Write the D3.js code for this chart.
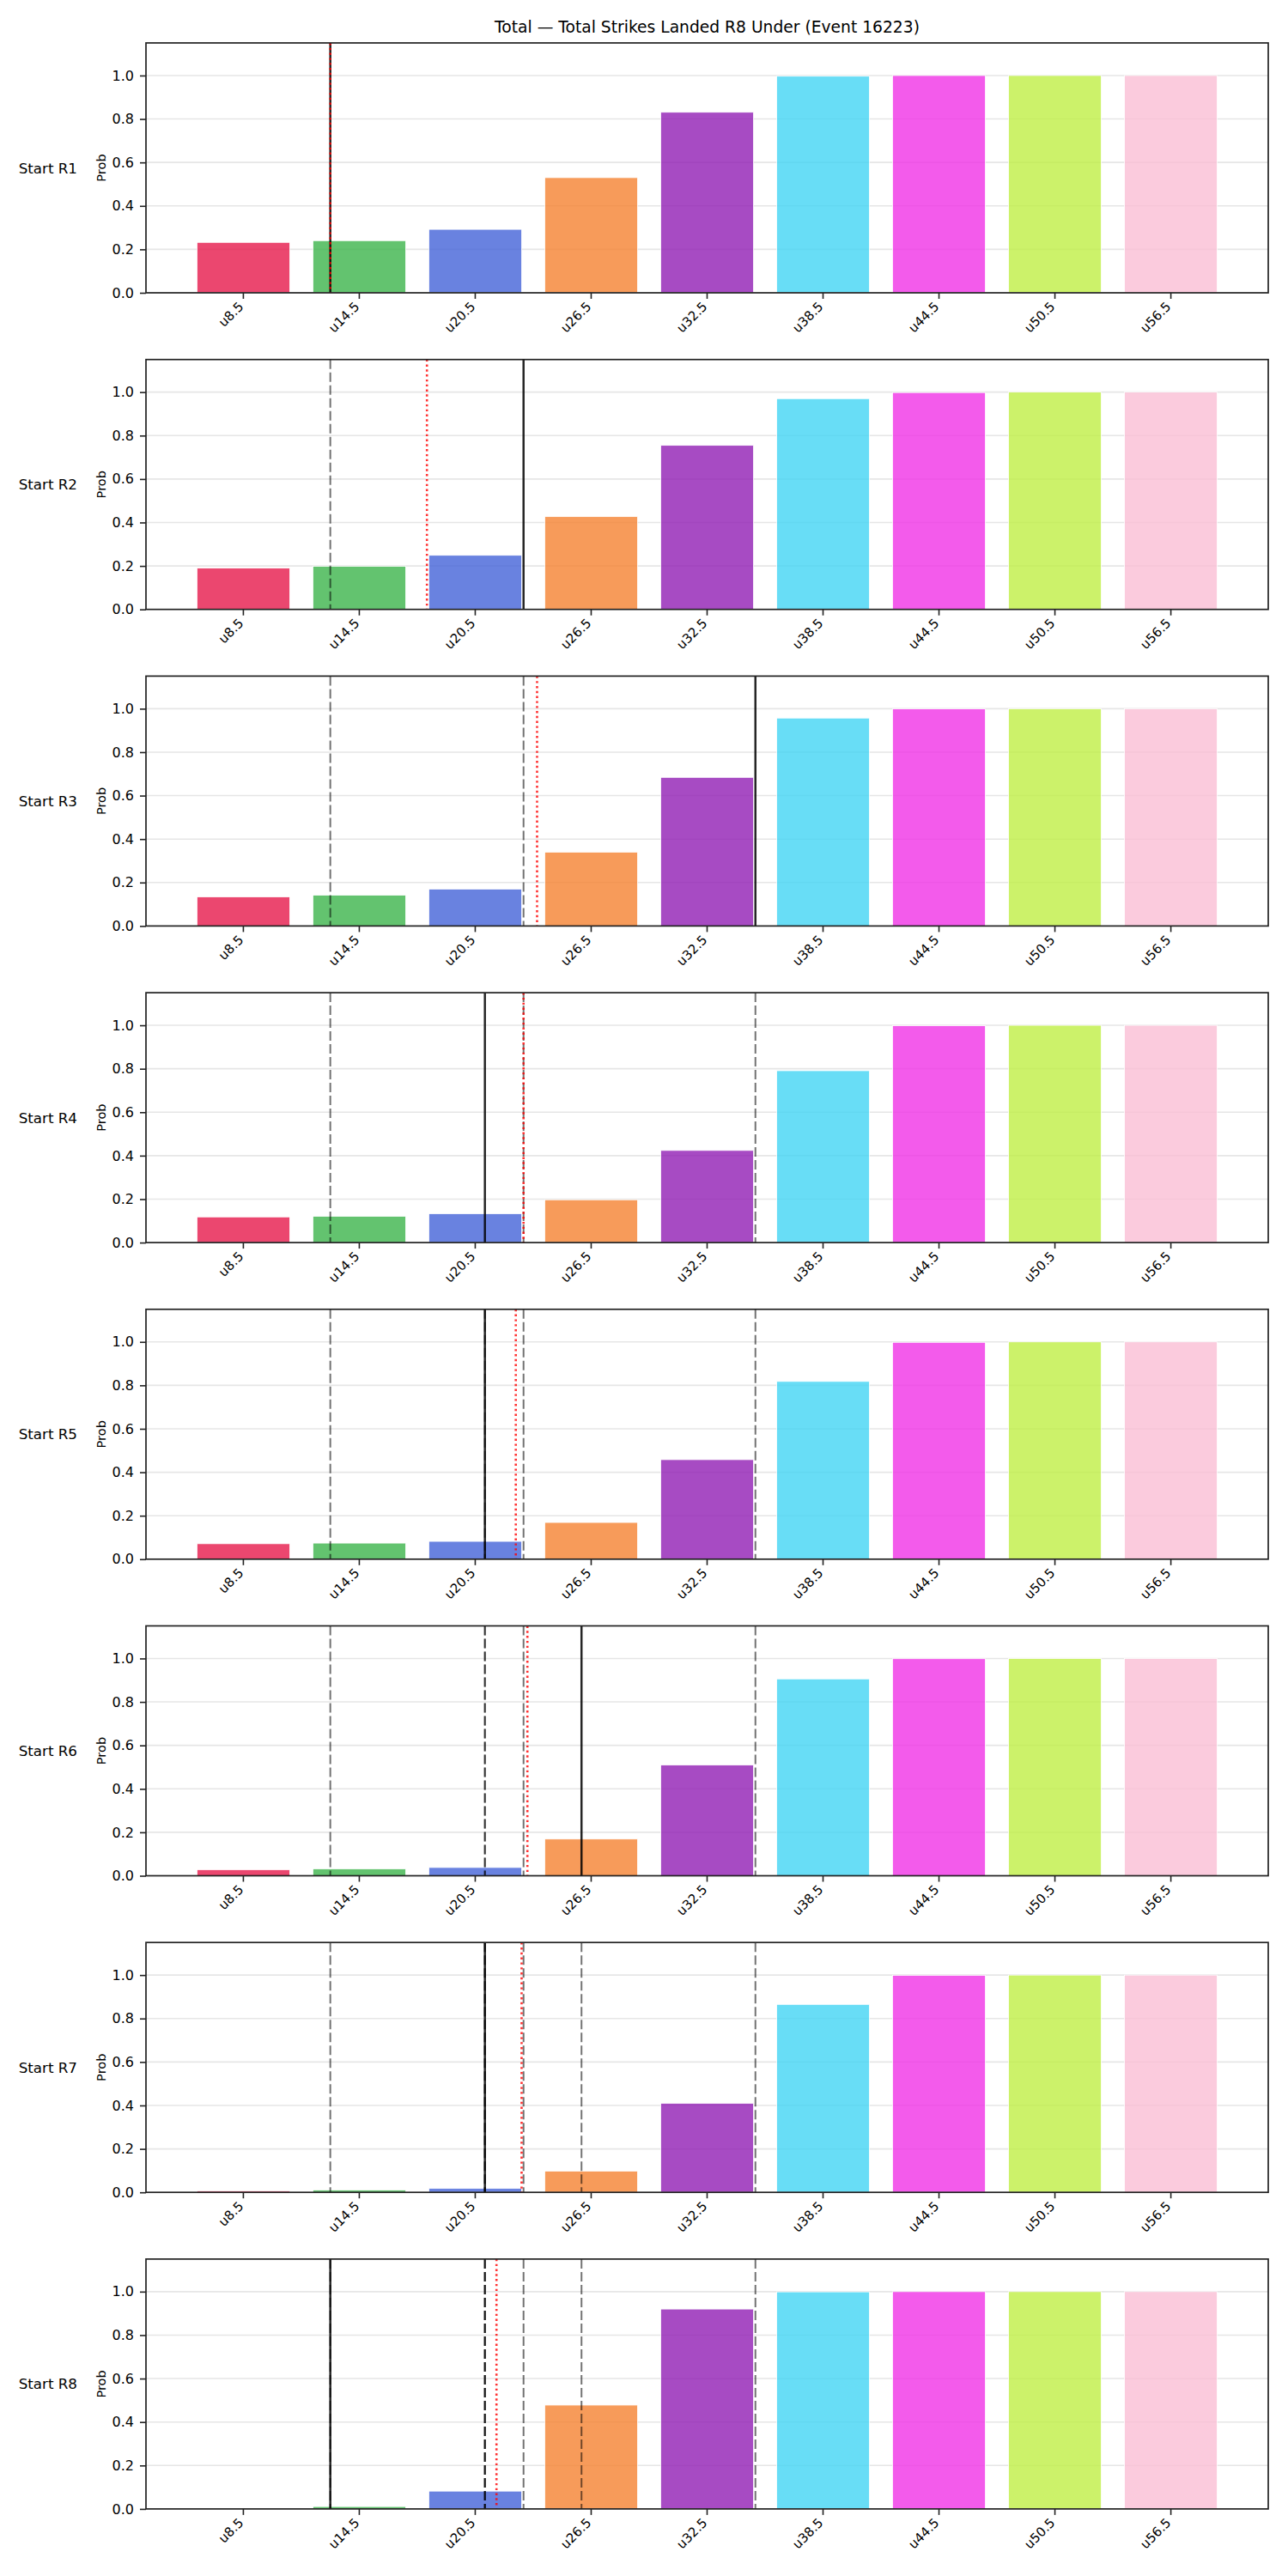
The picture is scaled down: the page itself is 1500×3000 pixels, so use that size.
<!DOCTYPE html>
<html>
<head>
<meta charset="utf-8">
<script src="https://cdn.jsdelivr.net/npm/d3@7"></script>
<style>
  body { margin: 0; background: #fff; }
  text { font-family: "DejaVu Sans", sans-serif; fill: #000; }
</style>
</head>
<body>
<div id="chart"></div>
<script>
// categories and colours
const thresholds = ["u8.5", "u14.5", "u20.5", "u26.5", "u32.5", "u38.5", "u44.5", "u50.5", "u56.5"];
const barColors = ["#e6194b", "#3cb44b", "#4363d8", "#f58231", "#911eb4", "#42d4f4", "#f032e6", "#bfef45", "#fabed4"];
const rounds = ["Start R1", "Start R2", "Start R3", "Start R4", "Start R5", "Start R6", "Start R7", "Start R8"];
const yTicks = [0, 0.2, 0.4, 0.6, 0.8, 1.0];

// probability of finishing under each line, per starting round
const probR1 = [0.232, 0.240, 0.292, 0.530, 0.831, 0.997, 1.0, 1.0, 1.0];
const probR2 = [0.190, 0.198, 0.249, 0.427, 0.755, 0.970, 0.998, 1.0, 1.0];
const probR3 = [0.134, 0.142, 0.170, 0.340, 0.684, 0.957, 0.999, 1.0, 1.0];
const probR4 = [0.118, 0.121, 0.133, 0.197, 0.424, 0.791, 0.998, 1.0, 1.0];
const probR5 = [0.071, 0.074, 0.082, 0.169, 0.458, 0.818, 0.998, 1.0, 1.0];
const probR6 = [0.028, 0.032, 0.038, 0.169, 0.510, 0.906, 0.999, 1.0, 1.0];
const probR7 = [0.007, 0.011, 0.018, 0.098, 0.410, 0.865, 0.999, 1.0, 1.0];
const probR8 = [0.003, 0.011, 0.082, 0.478, 0.920, 0.999, 1.0, 1.0, 1.0];
const probs = [probR1, probR2, probR3, probR4, probR5, probR6, probR7, probR8];

// vertical markers (in strikes): actual value (solid), expected value (red dotted)
const actualStrikes = [13, 23, 35, 21, 21, 26, 21, 13];
const expectedStrikes = [13, 18, 23.7, 23, 22.6, 23.2, 22.9, 21.6];

const W = 1500, H = 3000;
const margin = { left: 170, right: 23, top: 50 };
const panelH = 291, panelStep = 368.7;
const plotRight = W - margin.right;

const svg = d3.select("#chart").append("svg")
    .attr("width", W)
    .attr("height", H);

svg.append("text")
    .attr("x", (margin.left + plotRight) / 2)
    .attr("y", 38)
    .attr("text-anchor", "middle")
    .style("font-size", "18.7px")
    .text("Total \u2014 Total Strikes Landed R8 Under (Event 16223)");

const x = d3.scaleBand()
    .domain(thresholds)
    .range([margin.left, plotRight])
    .paddingInner(0.2)
    .paddingOuter(0.44);

const lineNums = thresholds.map(t => +t.slice(1));
const xStrikes = d3.scaleLinear()
    .domain([lineNums[0], lineNums[lineNums.length - 1]])
    .range([x(thresholds[0]) + x.bandwidth() / 2, x(thresholds[thresholds.length - 1]) + x.bandwidth() / 2]);

rounds.forEach((roundName, i) => {
    const top = margin.top + i * panelStep;
    const bottom = top + panelH;
    const y = d3.scaleLinear().domain([0, 1.15]).range([bottom, top]);
    const g = svg.append("g");

    // grid
    g.append("g").selectAll("line")
        .data(yTicks.slice(1))
        .join("line")
        .attr("x1", margin.left).attr("x2", plotRight)
        .attr("y1", d => y(d)).attr("y2", d => y(d))
        .attr("stroke", "#b0b0b0")
        .attr("stroke-opacity", 0.32)
        .attr("stroke-width", 1.6);

    // bars
    g.append("g").selectAll("rect")
        .data(probs[i])
        .join("rect")
        .attr("x", (d, j) => x(thresholds[j]))
        .attr("width", x.bandwidth())
        .attr("y", d => y(d))
        .attr("height", d => y(0) - y(d))
        .attr("fill", (d, j) => barColors[j])
        .attr("fill-opacity", 0.8)
        .attr("stroke", "#fff")
        .attr("stroke-width", 0.8);

    // earlier rounds' actual values, dashed
    g.append("g").selectAll("line")
        .data(actualStrikes.slice(0, i))
        .join("line")
        .attr("x1", d => xStrikes(d)).attr("x2", d => xStrikes(d))
        .attr("y1", top).attr("y2", bottom)
        .attr("stroke", "#000")
        .attr("stroke-opacity", 0.55)
        .attr("stroke-width", 2)
        .attr("stroke-dasharray", "11,4");

    // current actual value
    g.append("line")
        .attr("x1", xStrikes(actualStrikes[i])).attr("x2", xStrikes(actualStrikes[i]))
        .attr("y1", top).attr("y2", bottom)
        .attr("stroke", "#000")
        .attr("stroke-opacity", 0.85)
        .attr("stroke-width", 2.5);

    // expected value
    g.append("line")
        .attr("x1", xStrikes(expectedStrikes[i])).attr("x2", xStrikes(expectedStrikes[i]))
        .attr("y1", top).attr("y2", bottom)
        .attr("stroke", "#ff0000")
        .attr("stroke-opacity", 0.8)
        .attr("stroke-width", 2.6)
        .attr("stroke-dasharray", "2.4,3.4");

    // y axis
    const yAxis = g.append("g")
        .attr("transform", `translate(${margin.left},0)`)
        .call(d3.axisLeft(y).tickValues(yTicks).tickFormat(d3.format(".1f")).tickSize(7).tickPadding(7));
    yAxis.select(".domain").remove();
    yAxis.selectAll("line").attr("stroke", "#222").attr("stroke-width", 1.6);
    yAxis.selectAll("text").style("font-size", "16px").attr("fill", "#000");

    // x axis
    const xAxis = g.append("g")
        .attr("transform", `translate(0,${bottom})`)
        .call(d3.axisBottom(x).tickSize(7));
    xAxis.select(".domain").remove();
    xAxis.selectAll("line").attr("stroke", "#222").attr("stroke-width", 1.6);
    xAxis.selectAll("text")
        .attr("x", 0).attr("y", 0).attr("dy", 0)
        .attr("text-anchor", "end")
        .attr("transform", "translate(1,17) rotate(-45)")
        .style("font-size", "15px")
        .attr("fill", "#000");

    // frame
    g.append("rect")
        .attr("x", margin.left).attr("y", top)
        .attr("width", plotRight - margin.left).attr("height", panelH)
        .attr("fill", "none")
        .attr("stroke", "#222")
        .attr("stroke-width", 1.7);

    // labels
    g.append("text")
        .attr("transform", `translate(123,${(top + bottom) / 2}) rotate(-90)`)
        .attr("text-anchor", "middle")
        .style("font-size", "14.6px")
        .text("Prob");

    g.append("text")
        .attr("x", 90)
        .attr("y", (top + bottom) / 2)
        .attr("text-anchor", "end")
        .attr("dominant-baseline", "central")
        .style("font-size", "16.7px")
        .text(roundName);
});
</script>
</body>
</html>
